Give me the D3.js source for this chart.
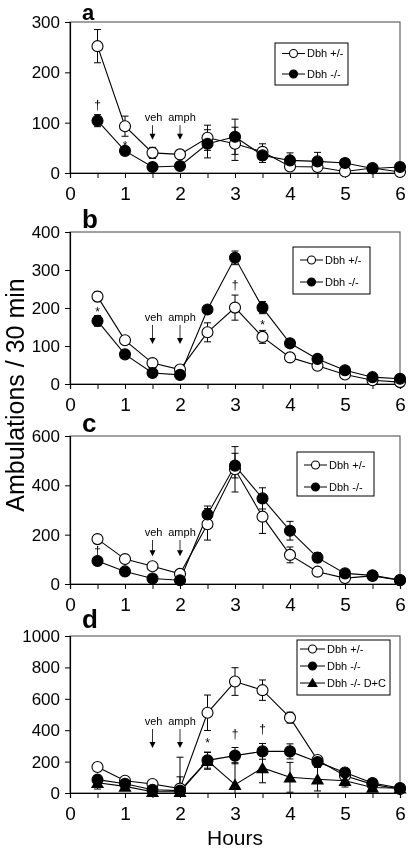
<!DOCTYPE html>
<html><head><meta charset="utf-8">
<script src="https://cdn.jsdelivr.net/npm/d3@7"></script>
<style>body{margin:0;background:#fff}svg{display:block;will-change:transform}</style>
</head><body>
<script>
// ---------- DATA ----------
const hours = [0.5, 1, 1.5, 2, 2.5, 3, 3.5, 4, 4.5, 5, 5.5, 6];
const xTickLabels = [0, 1, 2, 3, 4, 5, 6];
const seriesNames = ["Dbh +/-", "Dbh -/-", "Dbh -/- D+C"];
const panelLetters = ["a", "b", "c", "d"];
const yMaxes = [300, 400, 600, 1000];
const yTickSteps = [100, 100, 200, 200];

// panel a
const aHet    = [252, 93, 40, 37, 70, 58, 42, 13, 12, 3, 10, 2];
const aHetErr = [33, 20, 11, 4, 25, 33, 16, 5, 6, 3, 3, 2];
const aKO     = [104, 44, 12, 14, 58, 72, 35, 25, 23, 20, 9, 12];
const aKOErr  = [12, 7, 5, 4, 28, 35, 14, 15, 18, 8, 4, 4];
// panel b
const bHet    = [230, 115, 55, 38, 136, 201, 124, 70, 48, 25, 10, 5];
const bHetErr = [13, 8, 6, 5, 25, 33, 17, 6, 5, 4, 3, 3];
const bKO     = [166, 78, 29, 24, 196, 332, 201, 107, 66, 36, 18, 14];
const bKOErr  = [14, 10, 6, 4, 8, 18, 16, 8, 8, 5, 4, 3];
// panel c
const cHet    = [182, 101, 72, 41, 242, 465, 273, 118, 50, 24, 33, 15];
const cHetErr = [18, 8, 8, 6, 64, 92, 68, 32, 10, 5, 5, 4];
const cKO     = [93, 51, 22, 15, 282, 480, 347, 216, 107, 43, 35, 16];
const cKOErr  = [8, 6, 5, 4, 34, 50, 43, 38, 20, 6, 5, 4];
// panel d
const dHet    = [166, 78, 57, 28, 511, 710, 655, 480, 210, 110, 55, 25];
const dHetErr = [10, 10, 8, 8, 113, 88, 65, 35, 12, 10, 8, 5];
const dKO     = [85, 59, 21, 15, 208, 238, 265, 265, 197, 131, 64, 32];
const dKOErr  = [25, 12, 8, 88, 50, 52, 50, 48, 25, 12, 10, 8];
const dDC     = [65, 42, 8, 8, 206, 53, 160, 100, 88, 78, 35, 30];
const dDCErr  = [40, 15, 8, 220, 55, 140, 95, 95, 75, 40, 15, 8];

// injection arrows: [text baseline value, arrow tip value] per panel
const injectNames = ["veh", "amph"];
const injectHours = [1.5, 2];
const injectLevels = [[103, 66], [166, 105], [195, 113], [433, 287]];

// significance marks per panel: hour, baseline value, symbol
const sigHours  = [[0.5, 1], [0.5, 3, 3.5], [0.5], [2.5, 3, 3.5]];
const sigLevels = [[127, 46], [179, 250, 145], [118], [293, 350, 382]];
const sigSyms   = [["†", "*"], ["*", "†", "*"], ["†"], ["*", "†", "†"]];

// ---------- LAYOUT ----------
const W = 410, H = 849;
const FONT = "Liberation Sans, Arial, Helvetica, sans-serif";
const xLeft = 70, xRight = 400;
const panelBox = [
  {top: 22, bottom: 173},
  {top: 232, bottom: 384},
  {top: 436, bottom: 584},
  {top: 636, bottom: 793}
];
const legendBox = [
  {x: 275, y: 43, w: 73, h: 42, rows: [53.5, 74]},
  {x: 293, y: 247, w: 77, h: 47, rows: [260, 282]},
  {x: 297, y: 452, w: 77, h: 44, rows: [465, 487]},
  {x: 297, y: 640, w: 93, h: 55, rows: [649, 666, 683]}
];

const panelSeries = [
  [[aHet, aHetErr], [aKO, aKOErr]],
  [[bHet, bHetErr], [bKO, bKOErr]],
  [[cHet, cHetErr], [cKO, cKOErr]],
  [[dHet, dHetErr], [dKO, dKOErr], [dDC, dDCErr]]
];

const svg = d3.select("body").append("svg").attr("width", W).attr("height", H)
  .style("font-family", FONT);
svg.append("rect").attr("width", W).attr("height", H).attr("fill", "#fff");

const x = d3.scaleLinear().domain([0, 6]).range([xLeft, xRight]);
const tri = d3.symbol().type(d3.symbolTriangle).size(75);
const triLeg = d3.symbol().type(d3.symbolTriangle).size(50);

function drawMarker(g, idx, cx, cy, legend) {
  if (idx === 2) {
    g.append("path").attr("d", legend ? triLeg() : tri())
      .attr("transform", `translate(${cx},${cy + (legend ? 1 : 1.5)})`)
      .attr("fill", "#000");
  } else {
    g.append("circle").attr("cx", cx).attr("cy", cy).attr("r", legend ? 4 : 5.5)
      .attr("fill", idx === 0 ? "#fff" : "#000").attr("stroke", "#000").attr("stroke-width", 1.1);
  }
}

panelBox.forEach((pb, p) => {
  const y = d3.scaleLinear().domain([0, yMaxes[p]]).range([pb.bottom, pb.top]);
  const g = svg.append("g");

  // frame (top/right)
  g.append("rect").attr("x", xLeft).attr("y", pb.top).attr("width", xRight - xLeft)
    .attr("height", pb.bottom - pb.top).attr("fill", "none").attr("stroke", "#444").attr("stroke-width", 1);

  // y axis
  const yTicks = d3.range(0, yMaxes[p] + 1, yTickSteps[p]);
  const yAx = g.append("g").attr("transform", `translate(${xLeft},0)`)
    .call(d3.axisLeft(y).tickValues(yTicks).tickSize(5).tickPadding(5).tickFormat(d3.format("d")));
  yAx.select(".domain").attr("stroke", "#000").attr("stroke-width", 1.2);
  yAx.selectAll("text").style("font-size", "17px").style("font-family", FONT).attr("fill", "#000");

  // x axis
  const xAx = g.append("g").attr("transform", `translate(0,${pb.bottom})`)
    .call(d3.axisBottom(x).tickValues(d3.range(0, 6.01, 0.5)).tickSize(5).tickPadding(9)
      .tickFormat(d => Number.isInteger(d) ? d : ""));
  xAx.select(".domain").attr("stroke", "#000").attr("stroke-width", 1.2);
  xAx.selectAll("text").style("font-size", "19px").style("font-family", FONT).attr("fill", "#000");

  // panel letter
  g.append("text").attr("x", 82).attr("y", p === 0 ? 20 : pb.top - (p === 3 ? 8 : 4)).text(panelLetters[p])
    .style("font-size", p === 0 ? "22px" : "26px").style("font-weight", "bold");

  // series lines
  panelSeries[p].forEach(([vals, errs]) => {
    const pts = hours.map((h, i) => ({h, v: vals[i], e: errs[i]}));
    g.append("path").datum(pts)
      .attr("d", d3.line().x(d => x(d.h)).y(d => y(d.v)))
      .attr("fill", "none").attr("stroke", "#000").attr("stroke-width", 1.1);
  });
  // error bars
  panelSeries[p].forEach(([vals, errs]) => {
    hours.forEach((h, i) => {
      const lo = Math.max(0, vals[i] - errs[i]), hi = vals[i] + errs[i];
      const cx = x(h);
      g.append("line").attr("x1", cx).attr("x2", cx).attr("y1", y(lo)).attr("y2", y(hi))
        .attr("stroke", "#000").attr("stroke-width", 1);
      [hi, lo].forEach(v => {
        if (v === 0) return;
        g.append("line").attr("x1", cx - 3.5).attr("x2", cx + 3.5).attr("y1", y(v)).attr("y2", y(v))
          .attr("stroke", "#000").attr("stroke-width", 1);
      });
    });
  });
  // markers
  panelSeries[p].forEach(([vals], s) => {
    hours.forEach((h, i) => drawMarker(g, s, x(h), y(vals[i]), false));
  });

  // injection arrows
  injectHours.forEach((h, k) => {
    const cx = x(h);
    const tY = y(injectLevels[p][0]), tip = y(injectLevels[p][1]);
    g.append("text").attr("x", cx + (k === 0 ? 1 : 2)).attr("y", tY).attr("text-anchor", "middle")
      .text(injectNames[k]).style("font-size", "11px").attr("fill", "#000");
    g.append("line").attr("x1", cx).attr("x2", cx).attr("y1", tY + 4).attr("y2", tip - 5)
      .attr("stroke", "#000").attr("stroke-width", 0.8);
    g.append("path").attr("d", `M${cx - 3},${tip - 6}L${cx + 3},${tip - 6}L${cx},${tip}Z`).attr("fill", "#000");
  });

  // significance symbols
  sigHours[p].forEach((h, k) => {
    g.append("text").attr("x", x(h)).attr("y", y(sigLevels[p][k])).attr("text-anchor", "middle")
      .text(sigSyms[p][k]).style("font-size", "12px").attr("fill", "#000");
  });

  // legend
  const lb = legendBox[p];
  g.append("rect").attr("x", lb.x).attr("y", lb.y).attr("width", lb.w).attr("height", lb.h)
    .attr("fill", "#fff").attr("stroke", "#000").attr("stroke-width", 1);
  lb.rows.forEach((ry, s) => {
    const lx0 = lb.x + (p === 3 ? 3 : 7), lx1 = lb.x + (p === 3 ? 28 : 30);
    g.append("line").attr("x1", lx0).attr("x2", lx1).attr("y1", ry).attr("y2", ry)
      .attr("stroke", "#000").attr("stroke-width", 1);
    drawMarker(g, s, (lx0 + lx1) / 2, ry, true);
    g.append("text").attr("x", lx1 + 2).attr("y", ry).attr("dy", "0.35em")
      .text(seriesNames[s]).style("font-size", "11px").attr("fill", "#000");
  });
});

// axis titles
svg.append("text").attr("transform", "translate(24,395) rotate(-90)")
  .attr("text-anchor", "middle").text("Ambulations / 30 min").style("font-size", "25px");
svg.append("text").attr("x", (xLeft + xRight) / 2).attr("y", 845).attr("text-anchor", "middle")
  .text("Hours").style("font-size", "21px");
</script>
</body></html>
